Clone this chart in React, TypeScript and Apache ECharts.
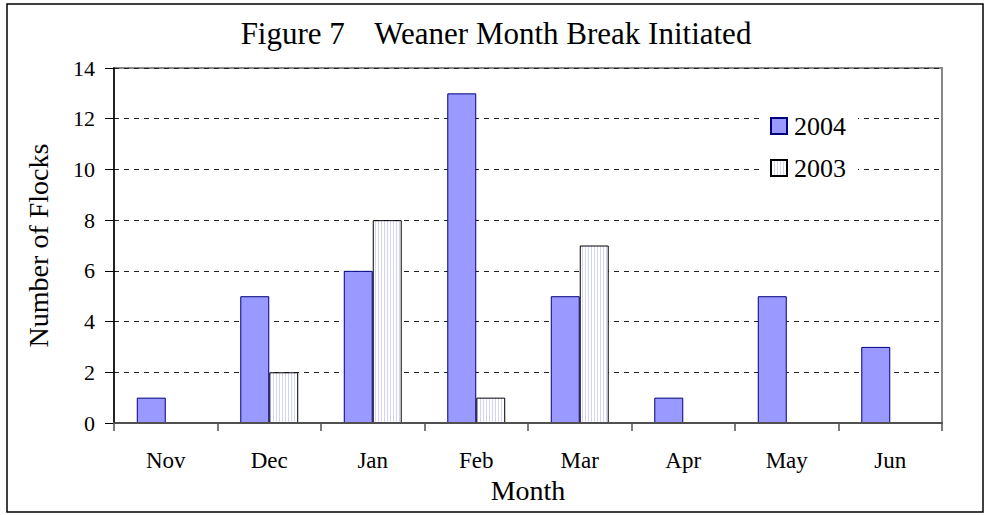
import React, { useEffect, useRef } from "react";
import * as echarts from "echarts";

const months = ["Nov", "Dec", "Jan", "Feb", "Mar", "Apr", "May", "Jun"];
const flocks2004 = [1, 5, 6, 13, 5, 1, 5, 3];
const flocks2003 = [0, 2, 8, 1, 7, 0, 0, 0];
const yTicks = [0, 2, 4, 6, 8, 10, 12, 14];

const FONT = "Liberation Serif";

export default function App() {
  const ref = useRef<HTMLDivElement>(null);
  useEffect(() => {
    if (!ref.current) return;
    const chart = echarts.init(ref.current, undefined, { renderer: "svg" });

    const cv = document.createElement("canvas");
    cv.width = 3;
    cv.height = 6;
    const ctx = cv.getContext("2d")!;
    ctx.fillStyle = "#ffffff";
    ctx.fillRect(0, 0, 3, 6);
    ctx.fillStyle = "#d4d4fb";
    ctx.fillRect(0, 0, 1, 6);

    chart.setOption({
      animation: false,
      backgroundColor: "#ffffff",
      textStyle: { fontFamily: FONT },
      graphic: [
        {
          type: "rect",
          shape: { x: 7, y: 4, width: 976, height: 508 },
          style: { fill: "none", stroke: "#000", lineWidth: 1.5 },
          z: 100,
        },
        {
          type: "text",
          x: 496,
          y: 33,
          style: {
            text: "Figure 7\u00a0\u00a0\u00a0\u2009Weaner Month Break Initiated",
            fontFamily: FONT,
            fontSize: 31,
            fill: "#000",
            align: "center",
            verticalAlign: "middle",
          },
        },
      ],
      legend: {
        orient: "vertical",
        left: 762,
        top: 105,
        backgroundColor: "#ffffff",
        padding: [8, 12, 8, 8],
        icon: "rect",
        itemWidth: 16,
        itemHeight: 16,
        itemGap: 16,
        textStyle: { fontFamily: FONT, fontSize: 26, color: "#000", padding: [0, 0, 0, 2] },
        data: ["2004", "2003"],
      },
      grid: {
        left: 114,
        top: 68,
        right: 46,
        bottom: 92,
        show: true,
        borderColor: "#888888",
        borderWidth: 2,
      },
      xAxis: {
        type: "category",
        data: months,
        z: 5,
        name: "Month",
        nameLocation: "middle",
        nameGap: 52,
        nameTextStyle: { fontFamily: FONT, fontSize: 28, color: "#000" },
        axisLine: { lineStyle: { color: "#505050", width: 2 } },
        axisTick: { show: true, length: 8, lineStyle: { color: "#505050", width: 1.5 } },
        axisLabel: { fontFamily: FONT, fontSize: 23, color: "#000", margin: 26 },
      },
      yAxis: {
        type: "value",
        min: yTicks[0],
        max: yTicks[yTicks.length - 1],
        interval: 2,
        name: "Number of Flocks",
        nameLocation: "middle",
        nameGap: 62,
        nameTextStyle: { fontFamily: FONT, fontSize: 28, color: "#000" },
        axisLine: { show: true, lineStyle: { color: "#000", width: 1.5 } },
        axisTick: { show: true, length: 9, lineStyle: { color: "#000", width: 1 } },
        axisLabel: { fontFamily: FONT, fontSize: 22, color: "#000", margin: 19 },
        splitLine: {
          show: true,
          lineStyle: { color: "#222", type: [5, 5], width: 1 },
        },
      },
      series: [
        {
          name: "2004",
          type: "bar",
          data: flocks2004,
          barGap: "0%",
          barCategoryGap: "44%",
          itemStyle: { color: "#9999ff", borderColor: "#000080", borderWidth: 1 },
        },
        {
          name: "2003",
          type: "bar",
          data: flocks2003,
          barGap: "0%",
          barCategoryGap: "44%",
          itemStyle: {
            color: { image: cv, repeat: "repeat" } as any,
            borderColor: "#000",
            borderWidth: 1,
          },
        },
      ],
    });
    return () => chart.dispose();
  }, []);
  return (
    <div
      ref={ref}
      style={{ position: "fixed", left: 0, top: 0, width: 988, height: 515 }}
    />
  );
}
